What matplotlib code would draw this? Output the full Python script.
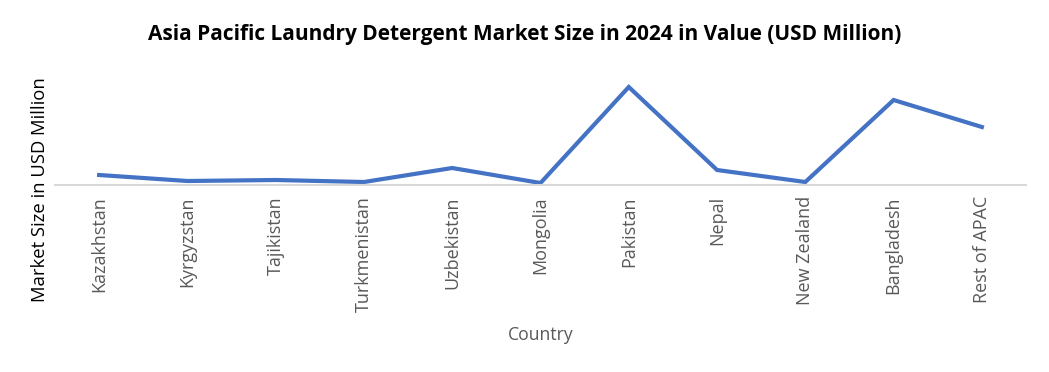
import matplotlib.pyplot as plt

plt.rcParams['font.family'] = ['Open Sans', 'DejaVu Sans']

COUNTRIES = ['Kazakhstan', 'Kyrgyzstan', 'Tajikistan', 'Turkmenistan', 'Uzbekistan',
             'Mongolia', 'Pakistan', 'Nepal', 'New Zealand', 'Bangladesh', 'Rest of APAC']
VALUES = [10, 4, 5, 3, 17, 2, 98, 15, 3, 85, 58]

fig = plt.figure(figsize=(10.49, 3.72), dpi=100)
ax = fig.add_axes([55 / 1049, 1 - 185 / 372, (1026 - 55) / 1049, 125 / 372])

x = list(range(len(COUNTRIES)))
ax.plot(x, VALUES, color='#4472C4', linewidth=3, solid_joinstyle='miter')
ax.set_xlim(-0.5, len(COUNTRIES) - 0.5)
ax.set_ylim(0, 125)

for side in ['top', 'right', 'left']:
    ax.spines[side].set_visible(False)
ax.spines['bottom'].set_color('#D9D9D9')
ax.spines['bottom'].set_linewidth(1.5)
ax.set_yticks([])
ax.set_xticks(x)
ax.set_xticklabels(COUNTRIES, rotation=90, fontsize=13, color='#595959')
ax.tick_params(axis='x', length=0, pad=8)

# y label sits centred on the whole chart area, not just the plot box
fig.text(40 / 1049, 1 - 190 / 372, 'Market Size in USD Million', rotation=90,
         fontsize=13.3, color='black', ha='center', va='center')
ax.set_xlabel('Country', fontsize=12.7, color='#595959', labelpad=10)
fig.suptitle('Asia Pacific Laundry Detergent Market Size in 2024 in Value (USD Million)',
             fontsize=15, fontweight='bold', y=0.935)

fig.savefig('out.png', dpi=100)
